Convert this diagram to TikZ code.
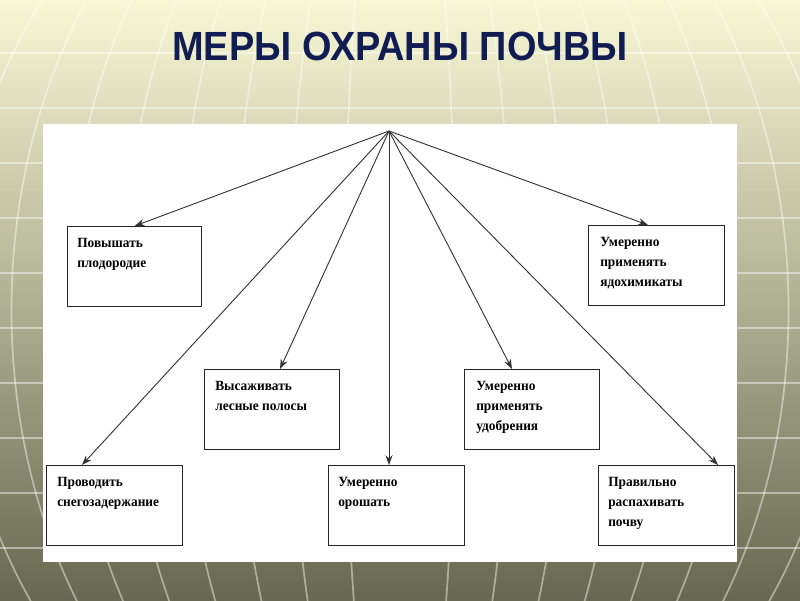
\documentclass[tikz,border=0pt]{standalone}
\usepackage{fontspec}
\setmainfont{Liberation Serif}
\newfontfamily\titlefont{Liberation Sans}
\usepackage{xcolor}
\usetikzlibrary{arrows.meta}
\definecolor{titleblue}{RGB}{16,28,82}
\definecolor{bgtop}{RGB}{248,248,214}
\definecolor{bgmid}{RGB}{190,190,154}
\definecolor{bgbot}{RGB}{104,104,80}

\begin{document}
\begin{tikzpicture}[x=0.025cm,y=-0.025cm,
  gridline/.style={white,opacity=0.45,line width=1.2pt},
  boxstyle/.style={draw=black!85,line width=0.9pt,fill=white,minimum width=3.4cm,minimum height=2cm,anchor=north west,inner sep=0pt},
  textstyle/.style={font=\bfseries\fontsize{10}{14.2}\selectfont,align=left,inner sep=0pt,anchor=north west,xscale=0.95},
  arrowstyle/.style={draw=black!80,line width=0.65pt,-{Stealth[length=7pt,width=5pt]}}]
\useasboundingbox (0,0) rectangle (800,600);
% background
\shade[top color=bgtop,middle color=bgmid,bottom color=bgbot] (0,0) rectangle (800,600);
\begin{scope}
\clip (0,0) rectangle (800,600);
\foreach \y in {53,108,...,548}
  \draw[gridline] (0,\y)--(800,\y);
\foreach \k in {1,...,10}
  \draw[gridline] (400,310) ellipse [x radius={55.5*\k}, y radius=524];
\end{scope}
\node[font=\titlefont\bfseries\fontsize{29}{30}\selectfont,text=titleblue,xscale=0.93] (title) at (400,46) {МЕРЫ ОХРАНЫ ПОЧВЫ};
% panel
\fill[white] (43,124) rectangle (737,562);
\coordinate (top) at (389,131);
% boxes
\node[boxstyle,minimum width=3.35cm] (b1) at (67,226) {};
\node[boxstyle] (b2) at (588,225) {};
\node[boxstyle,minimum width=3.375cm] (b3) at (204,369) {};
\node[boxstyle,minimum width=3.375cm] (b4) at (464,369) {};
\node[boxstyle] (b5) at (46,465) {};
\node[boxstyle] (b6) at (328,465) {};
\node[boxstyle] (b7) at (598,465) {};
\node[textstyle] (t1) at ([shift={(10,12)}]b1.north west) {Повышать\\плодородие};
\node[textstyle] (t2) at ([shift={(12,12)}]b2.north west) {Умеренно\\применять\\ядохимикаты};
\node[textstyle] (t3) at ([shift={(11,12)}]b3.north west) {Высаживать\\лесные полосы};
\node[textstyle] (t4) at ([shift={(12,12)}]b4.north west) {Умеренно\\применять\\удобрения};
\node[textstyle] (t5) at ([shift={(11,12)}]b5.north west) {Проводить\\снегозадержание};
\node[textstyle] (t6) at ([shift={(10,12)}]b6.north west) {Умеренно\\орошать};
\node[textstyle] (t7) at ([shift={(10,12)}]b7.north west) {Правильно\\распахивать\\почву};
% arrows
\draw[arrowstyle] (top)--(b1.north);
\draw[arrowstyle] (top)--([shift={(60,0)}]b2.north west);
\draw[arrowstyle] (top)--([shift={(76,0)}]b3.north west);
\draw[arrowstyle] (top)--([shift={(48,0)}]b4.north west);
\draw[arrowstyle] (top)--([shift={(36,0)}]b5.north west);
\draw[arrowstyle] (top)--(top|-b6.north);
\draw[arrowstyle] (top)--([shift={(120,0)}]b7.north west);
\end{tikzpicture}
\end{document}
